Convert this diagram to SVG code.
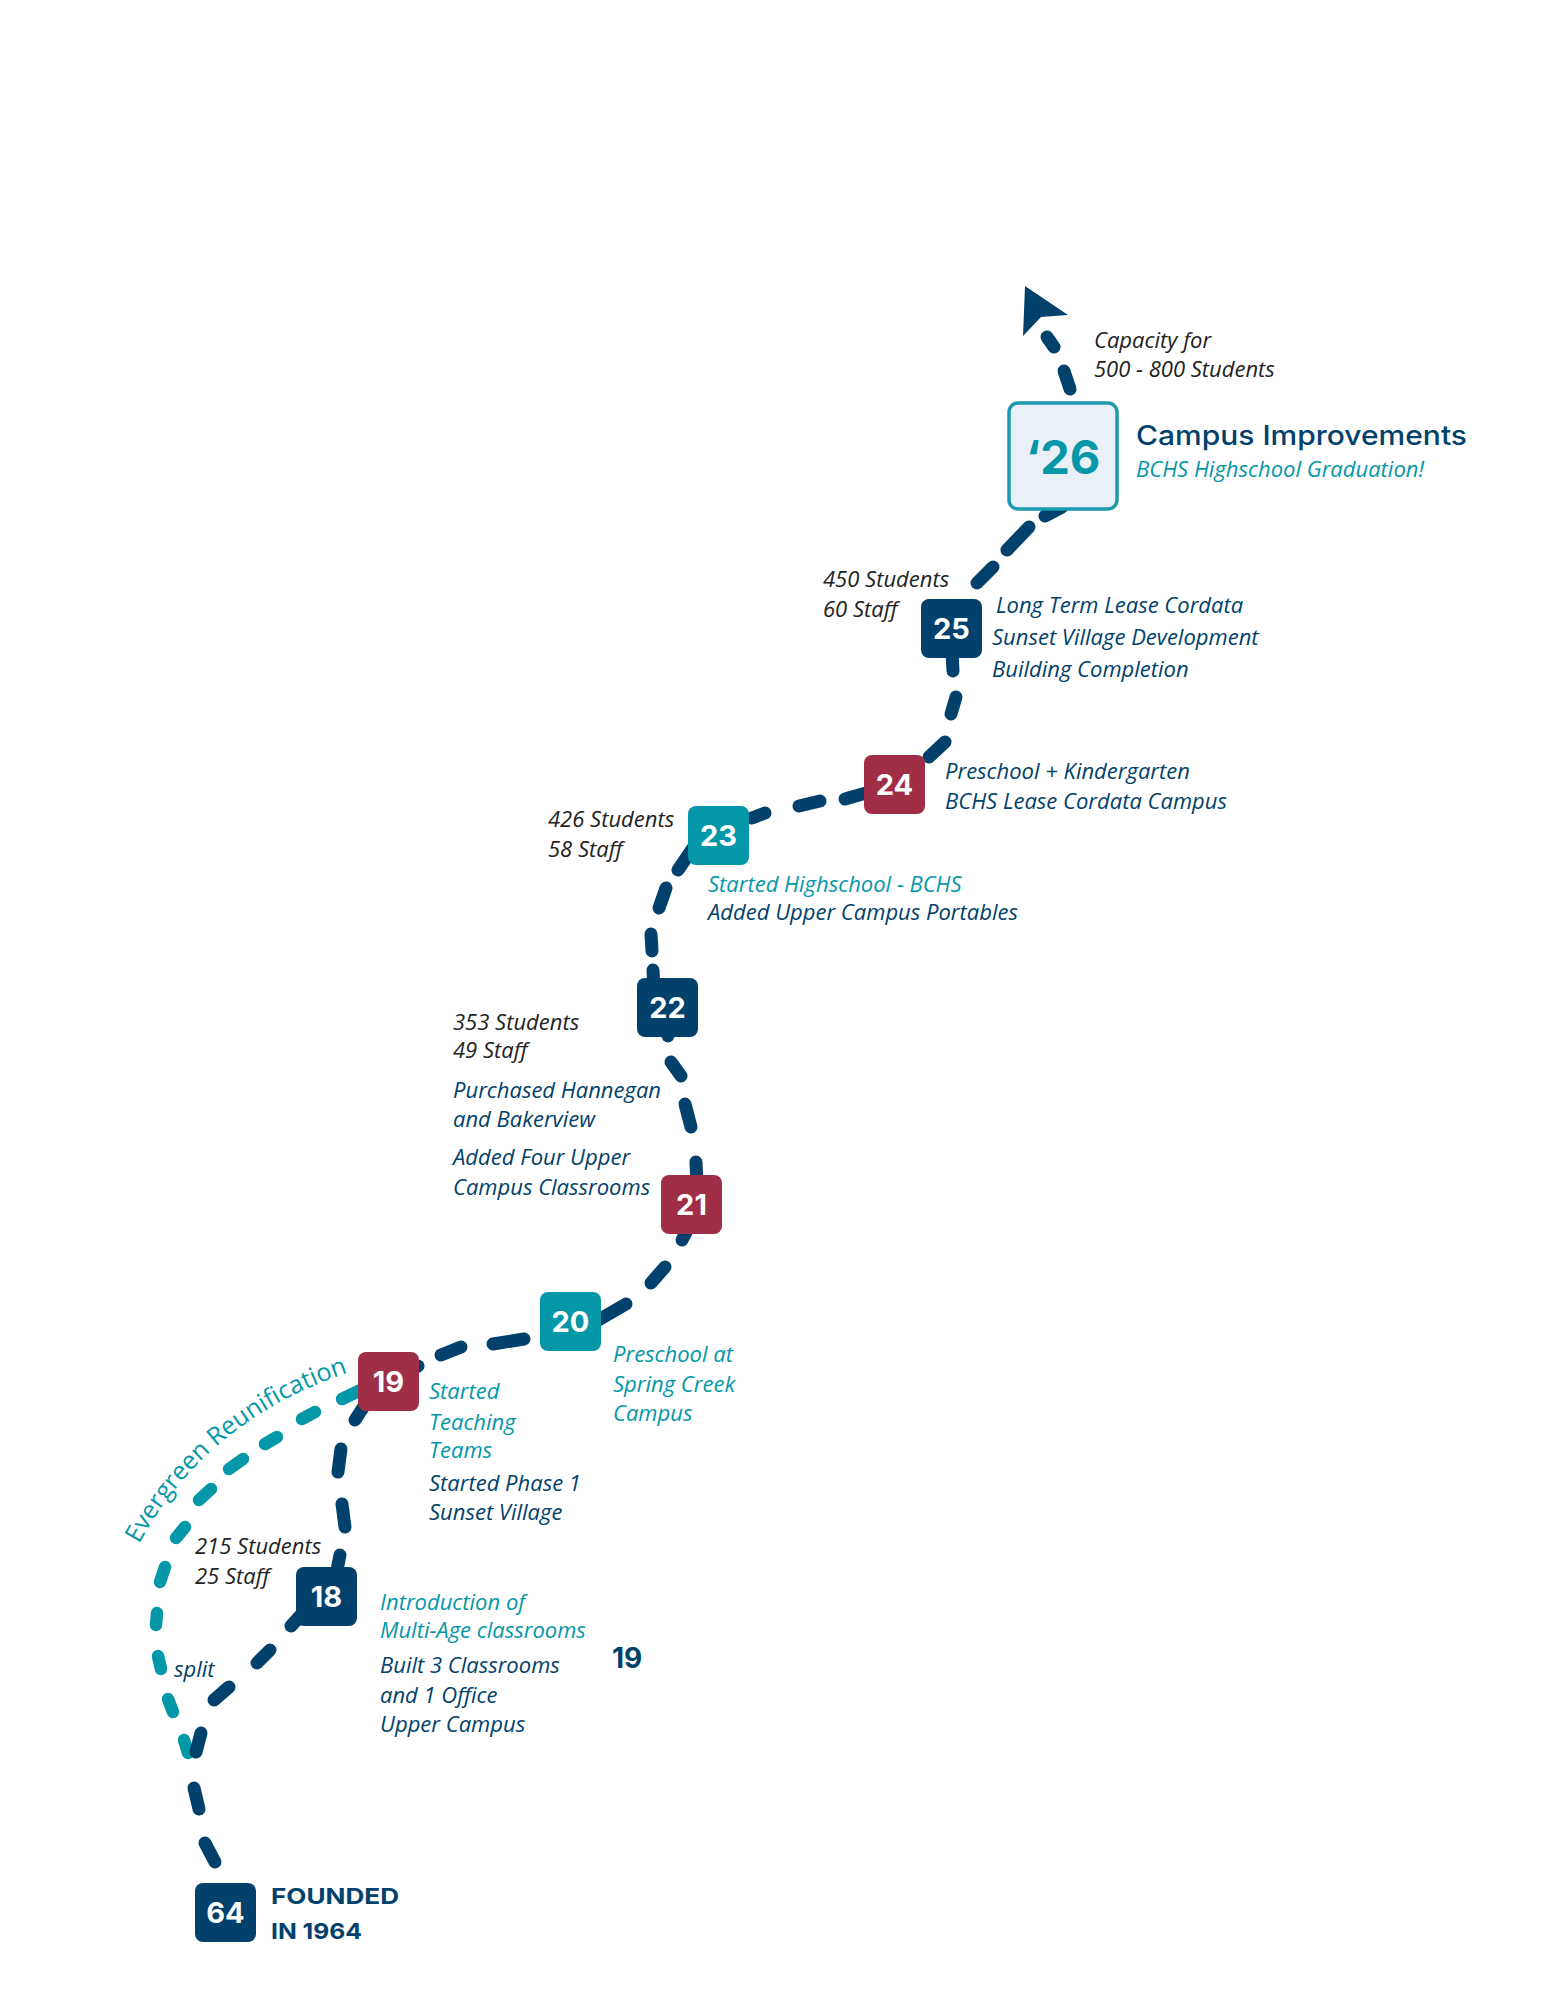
<svg xmlns="http://www.w3.org/2000/svg" width="1545" height="2000" viewBox="0 0 1545 2000">
<style>
.bg{fill:#ffffff}
.navy line{stroke:#01416b;stroke-width:13;stroke-linecap:round}
.teal line{stroke:#0497a8;stroke-width:12.5;stroke-linecap:round}
.bn{fill:#01416b}
.bt{fill:#0497a8}
.bm{fill:#a02e46}
.num{font-family:Inter,"Open Sans","DejaVu Sans",sans-serif;font-weight:700;font-size:29px;fill:#ffffff;text-anchor:middle}
.st{font-family:"Open Sans","DejaVu Sans",sans-serif;font-style:italic;font-size:22px;fill:#222222}
.dn{font-family:"Open Sans","DejaVu Sans",sans-serif;font-style:italic;font-size:22px;fill:#01416b}
.dt{font-family:"Open Sans","DejaVu Sans",sans-serif;font-style:italic;font-size:22px;fill:#0497a8}
.hd{font-family:Inter,"Open Sans","DejaVu Sans",sans-serif;font-weight:700;fill:#01416b}
</style>
<rect class="bg" x="0" y="0" width="1545" height="2000"/>
<defs>
<path id="evPath" d="M 139 1544 Q 206 1420 350 1372 L 420 1348"/>
</defs>
<g id="connectors">
<g id="edge-19-64-evergreen" class="teal">
<line x1="342" y1="1399" x2="365" y2="1388"/>
<line x1="302" y1="1419" x2="315" y2="1412"/>
<line x1="265" y1="1444" x2="277" y2="1437"/>
<line x1="229" y1="1469" x2="243" y2="1459"/>
<line x1="199" y1="1500" x2="211" y2="1489"/>
<line x1="176" y1="1538" x2="185" y2="1527"/>
<line x1="165" y1="1567" x2="160" y2="1582"/>
<line x1="157" y1="1613" x2="156" y2="1625"/>
<line x1="158" y1="1656" x2="161" y2="1669"/>
<line x1="168" y1="1699" x2="173" y2="1712"/>
<line x1="184" y1="1740" x2="188" y2="1753"/>
</g>
<g class="navy">
<g id="edge-64-18">
<line x1="215" y1="1862" x2="205" y2="1843"/>
<line x1="199" y1="1809" x2="194" y2="1788"/>
<line x1="196" y1="1752" x2="201" y2="1733"/>
<line x1="214" y1="1700" x2="229" y2="1687"/>
<line x1="257" y1="1663" x2="270" y2="1650"/>
<line x1="291" y1="1626" x2="302" y2="1614"/>
</g>
<g id="edge-18-19">
<line x1="336" y1="1575" x2="340" y2="1555"/>
<line x1="345" y1="1527" x2="342" y2="1504"/>
<line x1="338" y1="1472" x2="341" y2="1449"/>
<line x1="355" y1="1420" x2="368" y2="1400"/>
</g>
<g id="edge-19-20">
<line x1="405" y1="1372" x2="418" y2="1366"/>
<line x1="441" y1="1355" x2="461" y2="1347"/>
<line x1="493" y1="1344" x2="524" y2="1339"/>
</g>
<g id="edge-20-21">
<line x1="595" y1="1322" x2="626" y2="1304"/>
<line x1="651" y1="1283" x2="665" y2="1267"/>
<line x1="682" y1="1240" x2="690" y2="1225"/>
</g>
<g id="edge-21-22">
<line x1="697" y1="1185" x2="696" y2="1162"/>
<line x1="691" y1="1127" x2="685" y2="1104"/>
<line x1="681" y1="1076" x2="671" y2="1062"/>
<line x1="668" y1="1036" x2="668" y2="1025"/>
</g>
<g id="edge-22-23">
<line x1="654" y1="990" x2="653" y2="970"/>
<line x1="652" y1="951" x2="651" y2="934"/>
<line x1="659" y1="908" x2="666" y2="888"/>
<line x1="678" y1="870" x2="693" y2="848"/>
</g>
<g id="edge-23-24">
<line x1="752" y1="818" x2="765" y2="813"/>
<line x1="799" y1="806" x2="820" y2="801"/>
<line x1="845" y1="799" x2="866" y2="793"/>
</g>
<g id="edge-24-25">
<line x1="929" y1="757" x2="945" y2="742"/>
<line x1="951" y1="714" x2="956" y2="697"/>
<line x1="953" y1="671" x2="952" y2="652"/>
</g>
<g id="edge-25-26">
<line x1="977" y1="583" x2="993" y2="567"/>
<line x1="1007" y1="550" x2="1029" y2="527"/>
<line x1="1045" y1="516" x2="1062" y2="507"/>
</g>
<g id="edge-26-future">
<line x1="1070" y1="389" x2="1064" y2="371"/>
<line x1="1054" y1="347" x2="1047" y2="337"/>
<polygon points="1025,286 1068,315 1041,317 1023,336" fill="#01416b"/>
</g>
</g>
<text font-family="'Open Sans','DejaVu Sans',sans-serif" font-size="25" fill="#0497a8"><textPath href="#evPath">Evergreen Reunification</textPath></text>
</g>
<g id="node-26">
<rect x="1009" y="403" width="108" height="106" rx="9" fill="#eaf0f8" stroke="#1c9ab0" stroke-width="3.5"/>
<text x="1063" y="474" font-family="Inter,'Open Sans',sans-serif" font-weight="700" font-size="47" fill="#0497a8" text-anchor="middle">‘26</text>
<text x="1136" y="445" font-family="Inter,'Open Sans',sans-serif" font-weight="500" font-size="27" fill="#01416b" textLength="331" lengthAdjust="spacingAndGlyphs">Campus Improvements</text>
<text class="dt" x="1136" y="477">BCHS Highschool Graduation!</text>
<text class="st" x="1094" y="348">Capacity for</text>
<text class="st" x="1094" y="377">500 - 800 Students</text>
</g>
<g id="node-25">
<rect class="bn" x="921" y="599" width="61" height="59" rx="8"/>
<text class="num" x="951.5" y="639">25</text>
<text class="st" x="823" y="587">450 Students</text>
<text class="st" x="823" y="617">60 Staff</text>
<text class="dn" x="996" y="613">Long Term Lease Cordata</text>
<text class="dn" x="992" y="645">Sunset Village Development</text>
<text class="dn" x="992" y="677">Building Completion</text>
</g>
<g id="node-24">
<rect class="bm" x="864" y="755" width="61" height="59" rx="8"/>
<text class="num" x="894.5" y="795">24</text>
<text class="dn" x="945" y="779">Preschool + Kindergarten</text>
<text class="dn" x="945" y="809">BCHS Lease Cordata Campus</text>
</g>
<g id="node-23">
<rect class="bt" x="688" y="806" width="61" height="59" rx="8"/>
<text class="num" x="718.5" y="846">23</text>
<text class="st" x="548" y="827">426 Students</text>
<text class="st" x="548" y="857">58 Staff</text>
<text class="dt" x="708" y="892">Started Highschool - BCHS</text>
<text class="dn" x="708" y="920">Added Upper Campus Portables</text>
</g>
<g id="node-22">
<rect class="bn" x="637" y="978" width="61" height="59" rx="8"/>
<text class="num" x="667.5" y="1018">22</text>
<text class="st" x="453" y="1030">353 Students</text>
<text class="st" x="453" y="1058">49 Staff</text>
<text class="dn" x="453" y="1098">Purchased Hannegan</text>
<text class="dn" x="453" y="1127">and Bakerview</text>
<text class="dn" x="453" y="1165">Added Four Upper</text>
<text class="dn" x="453" y="1195">Campus Classrooms</text>
</g>
<g id="node-21">
<rect class="bm" x="661" y="1175" width="61" height="59" rx="8"/>
<text class="num" x="691.5" y="1215">21</text>
</g>
<g id="node-20">
<rect class="bt" x="540" y="1292" width="61" height="59" rx="8"/>
<text class="num" x="570.5" y="1332">20</text>
<text class="dt" x="613" y="1362">Preschool at</text>
<text class="dt" x="613" y="1392">Spring Creek</text>
<text class="dt" x="613" y="1421">Campus</text>
</g>
<g id="node-19">
<rect class="bm" x="358" y="1352" width="61" height="59" rx="8"/>
<text class="num" x="388.5" y="1392">19</text>
<text class="dt" x="429" y="1399">Started</text>
<text class="dt" x="429" y="1430">Teaching</text>
<text class="dt" x="429" y="1458">Teams</text>
<text class="dn" x="429" y="1491">Started Phase 1</text>
<text class="dn" x="429" y="1520">Sunset Village</text>
</g>
<g id="node-18">
<rect class="bn" x="296" y="1567" width="61" height="59" rx="8"/>
<text class="num" x="326.5" y="1607">18</text>
<text class="st" x="195" y="1554">215 Students</text>
<text class="st" x="195" y="1584">25 Staff</text>
<text class="dt" x="380" y="1610">Introduction of</text>
<text class="dt" x="380" y="1638">Multi-Age classrooms</text>
<text class="dn" x="380" y="1673">Built 3 Classrooms</text>
<text class="dn" x="380" y="1703">and 1 Office</text>
<text class="dn" x="380" y="1732">Upper Campus</text>
<text class="dn" x="174" y="1677">split</text>
<text class="hd" x="612" y="1668" font-size="28">19</text>
</g>
<g id="node-64">
<rect class="bn" x="195" y="1883" width="61" height="59" rx="8"/>
<text class="num" x="225.5" y="1923">64</text>
<text class="hd" x="271" y="1904" font-size="22" textLength="128" lengthAdjust="spacingAndGlyphs">FOUNDED</text>
<text class="hd" x="271" y="1939" font-size="22" textLength="91" lengthAdjust="spacingAndGlyphs">IN 1964</text>
</g>
</svg>
